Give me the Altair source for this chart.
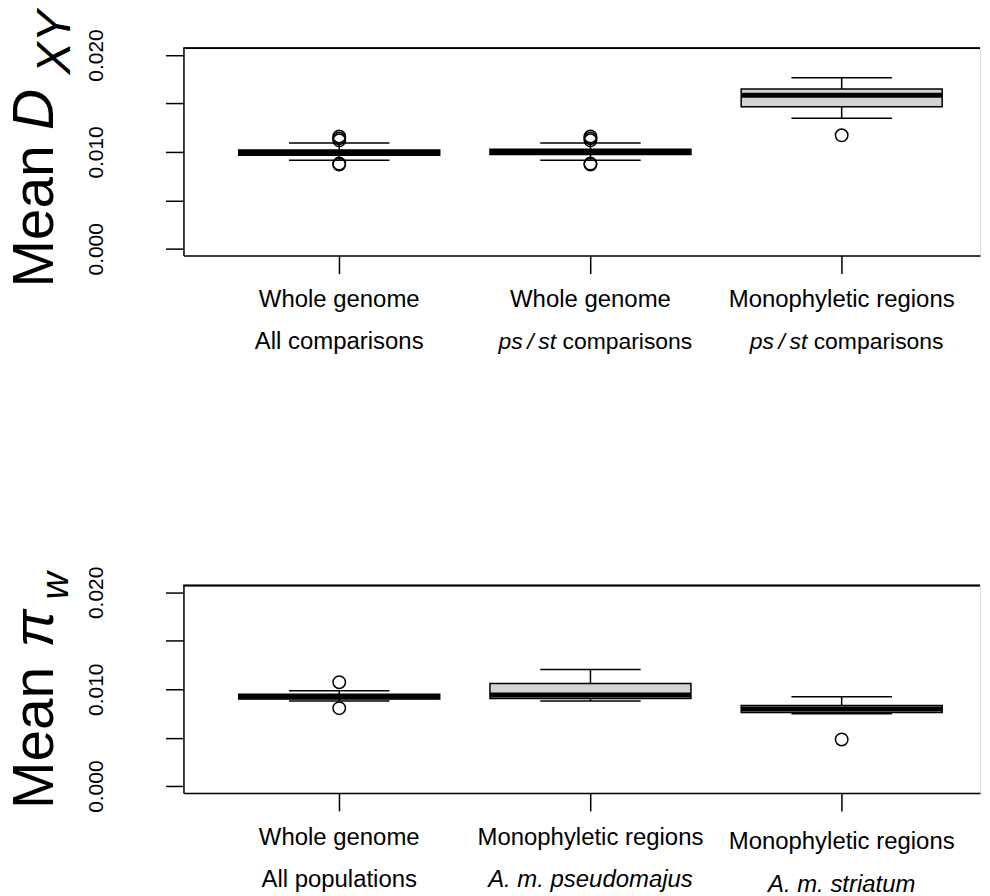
import altair as alt
import pandas as pd

# ---------------- data ----------------
positions = [1, 2, 3]

# top panel: Mean D_XY
dxy_line1 = ["Whole genome", "Whole genome", "Monophyletic regions"]
dxy_line2 = ["All comparisons", "ps / st comparisons", "ps / st comparisons"]
dxy_q1 = [0.00966, 0.00973, 0.01467]
dxy_median = [0.00993, 0.01000, 0.01585]
dxy_q3 = [0.01020, 0.01027, 0.01649]
dxy_lo = [0.00914, 0.00914, 0.01347]
dxy_hi = [0.01093, 0.01093, 0.01766]
dxy_out_pos = [1, 1, 1, 1, 1, 2, 2, 2, 2, 2, 3]
dxy_out_val = [0.0116, 0.0114, 0.0112, 0.0088, 0.0087,
               0.0116, 0.0114, 0.0112, 0.0088, 0.0087, 0.01172]
dxy_title = ["Mean", "D", "XY"]

# bottom panel: Mean pi_w
pi_line1 = ["Whole genome", "Monophyletic regions", "Monophyletic regions"]
pi_line2 = ["All populations", "A. m. pseudomajus", "A. m. striatum"]
pi_q1 = [0.00900, 0.00906, 0.00760]
pi_median = [0.00924, 0.00942, 0.00797]
pi_q3 = [0.00948, 0.01059, 0.00833]
pi_lo = [0.00880, 0.00880, 0.00747]
pi_hi = [0.00986, 0.01205, 0.00924]
pi_out_pos = [1, 1, 3]
pi_out_val = [0.01073, 0.00805, 0.00482]
pi_title = ["Mean", "\u03c0", "w"]

# ---------------- layout / style ----------------
W = 799
H = 208
XDOM = [0.38, 0.38 + W / 252.0]
YDOM = [-0.0007, 0.0207]
FONT = "Liberation Sans"
LBL = 24
MIX = 23        # font size of the mixed italic/upright "ps / st comparisons" lines
MIX_SHIFT = 5   # those lines sit slightly right of the tick in the reference
LW = 1.5

# Arial advance widths (per 1000 em) used to place mixed italic / upright pieces
AW = {' ': 278, '\u2009': 200, '/': 278, '.': 278, 'a': 556, 'c': 500, 'd': 556, 'e': 556,
      'g': 556, 'h': 556, 'i': 222, 'j': 222, 'l': 222, 'm': 833, 'n': 556, 'o': 556,
      'p': 556, 'r': 333, 's': 500, 't': 278, 'u': 556, 'y': 500, 'A': 667}


def tw(s, size):
    return sum(AW.get(c, 556) for c in s) * size / 1000.0


xs = alt.Scale(domain=XDOM, nice=False, zero=False)
ys = alt.Scale(domain=YDOM, nice=False, zero=False)
xaxis = alt.Axis(values=positions, labels=False, tickSize=18, tickWidth=LW, tickColor="black",
                 domainColor="black", domainWidth=LW, grid=False, title=None)
yaxis = alt.Axis(values=[0, 0.005, 0.01, 0.015, 0.02],
                 labelExpr="round(datum.value*1000) % 10 == 0 ? format(datum.value, '.3f') : ''",
                 tickSize=18, tickWidth=LW, tickColor="black", domainColor="black",
                 domainWidth=LW, labelAngle=270, labelAlign="center",
                 labelBaseline="alphabetic", labelPadding=63, labelFontSize=21,
                 labelColor="black", labelFont=FONT, grid=False, title=None)


def label_layers(pos, text, ypix, dy):
    """Text marks for one category label line (italic species / comparison parts)."""
    df = pd.DataFrame({"pos": [pos], "t": [text]})
    X = alt.X("pos:Q", scale=xs, axis=xaxis)
    common = dict(font=FONT, baseline="alphabetic", color="black", dy=dy)
    if text.startswith("ps / st"):
        it = text[:7].replace(" ", "\u2009")
        pl = text[8:]
        sp = tw(" ", MIX)
        total = tw(it, MIX) + sp + tw(pl, MIX)
        split = -total / 2 + tw(it, MIX) + MIX_SHIFT
        d1 = pd.DataFrame({"pos": [pos], "t": [it]})
        d2 = pd.DataFrame({"pos": [pos], "t": [pl]})
        return [
            alt.Chart(d1).mark_text(align="right", dx=split, fontStyle="italic",
                                    fontSize=MIX, **common)
            .encode(x=X, y=alt.value(ypix), text="t:N"),
            alt.Chart(d2).mark_text(align="left", dx=split + sp, fontStyle="normal",
                                    fontSize=MIX, **common)
            .encode(x=X, y=alt.value(ypix), text="t:N"),
        ]
    style = "italic" if text.startswith("A. m.") else "normal"
    return [alt.Chart(df).mark_text(align="center", fontStyle=style, fontSize=LBL, **common)
            .encode(x=X, y=alt.value(ypix), text="t:N")]


def panel(q1, med, q3, lo, hi, out_pos, out_val, line1, line2, label_dy, title, title_pos):
    box = pd.DataFrame({"pos": positions, "q1": q1, "med": med, "q3": q3, "lo": lo, "hi": hi})
    outl = pd.DataFrame({"pos": out_pos, "val": out_val})
    base = alt.Chart(box)
    Y = lambda f: alt.Y(f, scale=ys, axis=yaxis)
    XL = alt.X("l:Q", scale=xs, axis=xaxis)

    whisk = base.mark_rule(color="black", strokeWidth=LW).encode(
        x=alt.X("pos:Q", scale=xs, axis=xaxis), y=Y("lo:Q"), y2="hi:Q")
    caps = base.transform_calculate(l="datum.pos - 0.2", r="datum.pos + 0.2")
    caps_hi = caps.mark_rule(color="black", strokeWidth=LW).encode(x=XL, x2="r:Q", y=Y("hi:Q"))
    caps_lo = caps.mark_rule(color="black", strokeWidth=LW).encode(x=XL, x2="r:Q", y=Y("lo:Q"))
    wide = base.transform_calculate(l="datum.pos - 0.4", r="datum.pos + 0.4")
    rect = wide.mark_rect(fill="#d3d3d3", stroke="black", strokeWidth=LW).encode(
        x=XL, x2="r:Q", y=Y("q1:Q"), y2="q3:Q")
    median = wide.mark_rule(color="black", strokeWidth=5).encode(x=XL, x2="r:Q", y=Y("med:Q"))
    pts = alt.Chart(outl).mark_point(shape="circle", filled=False, color="black",
                                     strokeWidth=LW, size=156, opacity=1).encode(
        x=alt.X("pos:Q", scale=xs, axis=xaxis), y=Y("val:Q"))
    top = base.mark_rule(color="black", strokeWidth=LW).encode(
        x=alt.value(0), x2=alt.value(W), y=alt.value(0))

    layers = [whisk, rect, median, caps_hi, caps_lo, pts, top]
    for p, t1, t2, d in zip(positions, line1, line2, label_dy):
        layers += label_layers(p, t1, H + 52, d[0])
        layers += label_layers(p, t2, H + 94, d[1])

    tdf = pd.DataFrame({"t": title})
    for i, (tx, ty, size, style) in enumerate(title_pos):
        layers.append(alt.Chart(tdf).transform_filter(f"datum.t == '{title[i]}'").mark_text(
            font=FONT, fontSize=size, fontStyle=style, angle=270, align="left",
            baseline="alphabetic", color="black").encode(
            x=alt.value(tx), y=alt.value(ty), text="t:N"))
    return alt.layer(*layers).properties(width=W, height=H)


p_top = panel(dxy_q1, dxy_median, dxy_q3, dxy_lo, dxy_hi, dxy_out_pos, dxy_out_val,
              dxy_line1, dxy_line2, [(0, 0), (0, 0), (0, 0)], dxy_title,
              [(-131, 240, 57, "normal"), (-131, 82, 57, "italic"), (-114, 26, 48, "italic")])
p_bot = panel(pi_q1, pi_median, pi_q3, pi_lo, pi_hi, pi_out_pos, pi_out_val,
              pi_line1, pi_line2, [(0, 0), (0, 0), (4, 5)], pi_title,
              [(-131, 224, 57, "normal"), (-131, 62, 57, "italic"), (-116, 14, 38, "italic")])

chart = alt.vconcat(p_top, p_bot, spacing=211).properties(
    padding={"left": -2, "top": 0, "right": 0, "bottom": 0}
).configure_view(strokeWidth=0).configure(font=FONT)

chart.save("out.html", embed_options={"renderer": "svg", "actions": False})
